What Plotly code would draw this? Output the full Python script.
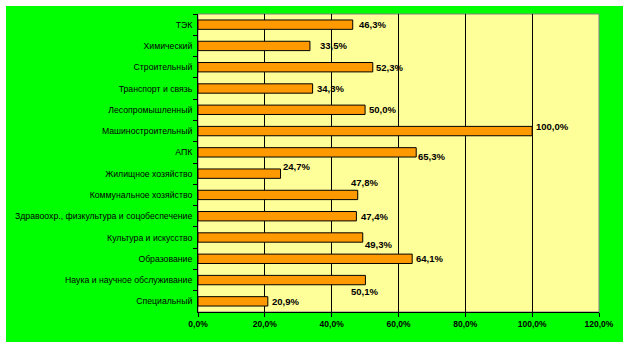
import plotly.graph_objects as go

# Sectors and their share, %
sectors = [
    "ТЭК",
    "Химический",
    "Строительный",
    "Транспорт и связь",
    "Лесопромышленный",
    "Машиностроительный",
    "АПК",
    "Жилищное хозяйство",
    "Коммунальное хозяйство",
    "Здравоохр., физкультура и соцобеспечение",
    "Культура и искусство",
    "Образование",
    "Наука и научное обслуживание",
    "Специальный",
]
shares = [46.3, 33.5, 52.3, 34.3, 50.0, 100.0, 65.3, 24.7, 47.8, 47.4, 49.3, 64.1, 50.1, 20.9]

x_ticks = [0, 20, 40, 60, 80, 100, 120]
x_tick_labels = ["0,0%", "20,0%", "40,0%", "60,0%", "80,0%", "100,0%", "120,0%"]

# Pixel nudges for the value labels (x from bar end, y upward)
label_dx = [4, 8, 1, 2, 2, 2, 0, 0, -9, 3, 0, 2, -16, 2]
label_dy = [0, 0, 0, 0, 0, 5, -4, 7, 12, 0, -7, 0, -11, 0]

GREEN = "#00FF00"
YELLOW = "#FFFF99"
ORANGE = "#FF9900"

W, H = 630, 348
ML, MR, MT, MB = 198, 31, 14, 36
PW, PH = W - ML - MR, H - MT - MB


def px_x(p):
    return (p - ML) / PW


def px_y(p):
    return (H - MB - p) / PH


fig = go.Figure(
    go.Bar(
        x=shares,
        y=sectors,
        orientation="h",
        marker=dict(color=ORANGE, line=dict(color="black", width=1)),
        hoverinfo="x+y",
    )
)

for s, v, dx, dy in zip(sectors, shares, label_dx, label_dy):
    fig.add_annotation(
        x=v, y=s, xref="x", yref="y",
        text="<b>" + f"{v:.1f}%".replace(".", ",") + "</b>",
        showarrow=False, xanchor="left", yanchor="middle",
        xshift=dx, yshift=dy,
        font=dict(family="Liberation Sans", size=9.5, color="black"),
    )

# Green panel behind the chart, then the yellow plot area with its grey frame
fig.add_shape(type="rect", xref="paper", yref="paper",
              x0=px_x(6), x1=px_x(623), y0=px_y(342), y1=px_y(6),
              fillcolor=GREEN, line=dict(width=0), layer="below")
fig.add_shape(type="rect", xref="paper", yref="paper",
              x0=0, x1=1, y0=0, y1=1,
              fillcolor=YELLOW, line=dict(color="#808080", width=1), layer="below")

fig.update_layout(
    width=W, height=H,
    margin=dict(l=ML, r=MR, t=MT, b=MB, pad=0, autoexpand=False),
    paper_bgcolor="white",
    plot_bgcolor=YELLOW,
    bargap=0.56,
    showlegend=False,
    font=dict(family="Liberation Sans", size=8, color="black"),
)
fig.update_xaxes(
    range=[0, 120], tickvals=x_ticks,
    ticktext=["<b>" + t + "</b>" for t in x_tick_labels],
    showgrid=True, gridcolor="black", gridwidth=1,
    showline=True, linecolor="black", linewidth=1,
    ticks="outside", ticklen=4, tickcolor="black",
    zeroline=False, fixedrange=True, automargin=False,
    tickfont=dict(family="Liberation Sans", size=8.5),
)
fig.update_yaxes(
    autorange="reversed", tickson="boundaries",
    showline=True, linecolor="black", linewidth=1,
    ticks="outside", ticklen=4, tickcolor="black",
    showgrid=False, fixedrange=True, ticklabelstandoff=3, automargin=False,
    tickfont=dict(family="Liberation Sans", size=8.7),
)

fig.write_html("out.html")
